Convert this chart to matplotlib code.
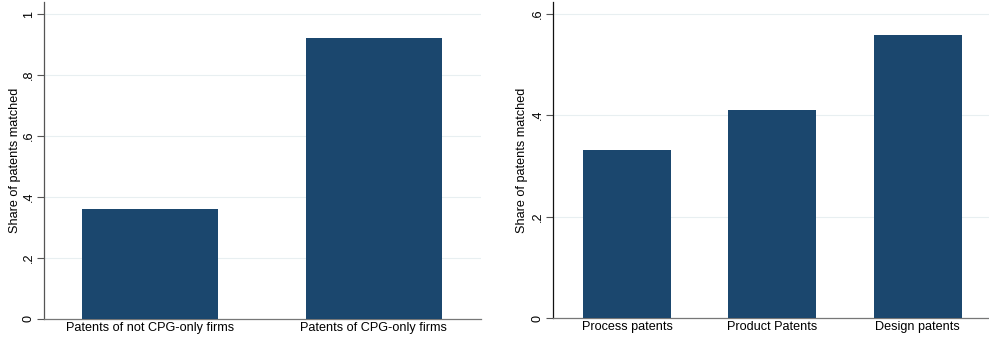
import matplotlib.pyplot as plt

plt.rcParams['font.family'] = ['Liberation Sans', 'DejaVu Sans']

# left panel: firm type
firm_labels = ["Patents of not CPG-only firms", "Patents of CPG-only firms"]
firm_share = [0.361, 0.921]

# right panel: patent type
type_labels = ["Process patents", "Product Patents", "Design patents"]
type_share = [0.331, 0.410, 0.558]

left_ticks = [0, 0.2, 0.4, 0.6, 0.8, 1.0]
left_ticklabels = ["0", ".2", ".4", ".6", ".8", "1"]
right_ticks = [0, 0.2, 0.4, 0.6]
right_ticklabels = ["0", ".2", ".4", ".6"]

bar_color = '#1b476e'
grid_color = '#e8eff1'
fs = 9.1

fig = plt.figure(figsize=(9.89, 3.47), dpi=100)
ax1 = fig.add_axes([44 / 989, 28 / 347, 437 / 989, 317 / 347])
ax2 = fig.add_axes([553 / 989, 29 / 347, 436 / 989, 316 / 347])


def style(ax, labels, values, ticks, ticklabels, xlim, ylim, ycolor, label_x):
    x = list(range(len(labels)))
    ax.bar(x, values, width=0.605, color=bar_color, zorder=3)
    ax.set_xlim(*xlim)
    ax.set_ylim(*ylim)
    ax.set_xticks(x)
    ax.set_xticklabels(labels, fontsize=fs)
    ax.tick_params(axis='x', length=0, pad=2)
    ax.set_yticks(ticks)
    ax.set_yticklabels(ticklabels, fontsize=fs, rotation=90, va='center')
    ax.tick_params(axis='y', length=5, width=0.8, color='#555555', pad=1.5)
    ax.grid(axis='y', color=grid_color, linewidth=0.8, zorder=0)
    ax.set_ylabel("Share of patents matched", fontsize=fs, va='center')
    ax.yaxis.set_label_coords(label_x, 0.5)
    for s in ['top', 'right']:
        ax.spines[s].set_visible(False)
    ax.spines['bottom'].set_color('#777777')
    ax.spines['left'].set_color(ycolor)
    ax.spines['left'].set_linewidth(0.9)
    ax.spines['bottom'].set_linewidth(0.9)


style(ax1, firm_labels, firm_share, left_ticks, left_ticklabels,
      (-0.473, 1.478), (0, 1.04), '#555555', -0.066)
style(ax2, type_labels, type_share, right_ticks, right_ticklabels,
      (-0.51, 2.49), (0, 0.623), '#111111', -0.07)

fig.savefig('out.png', dpi=100)
